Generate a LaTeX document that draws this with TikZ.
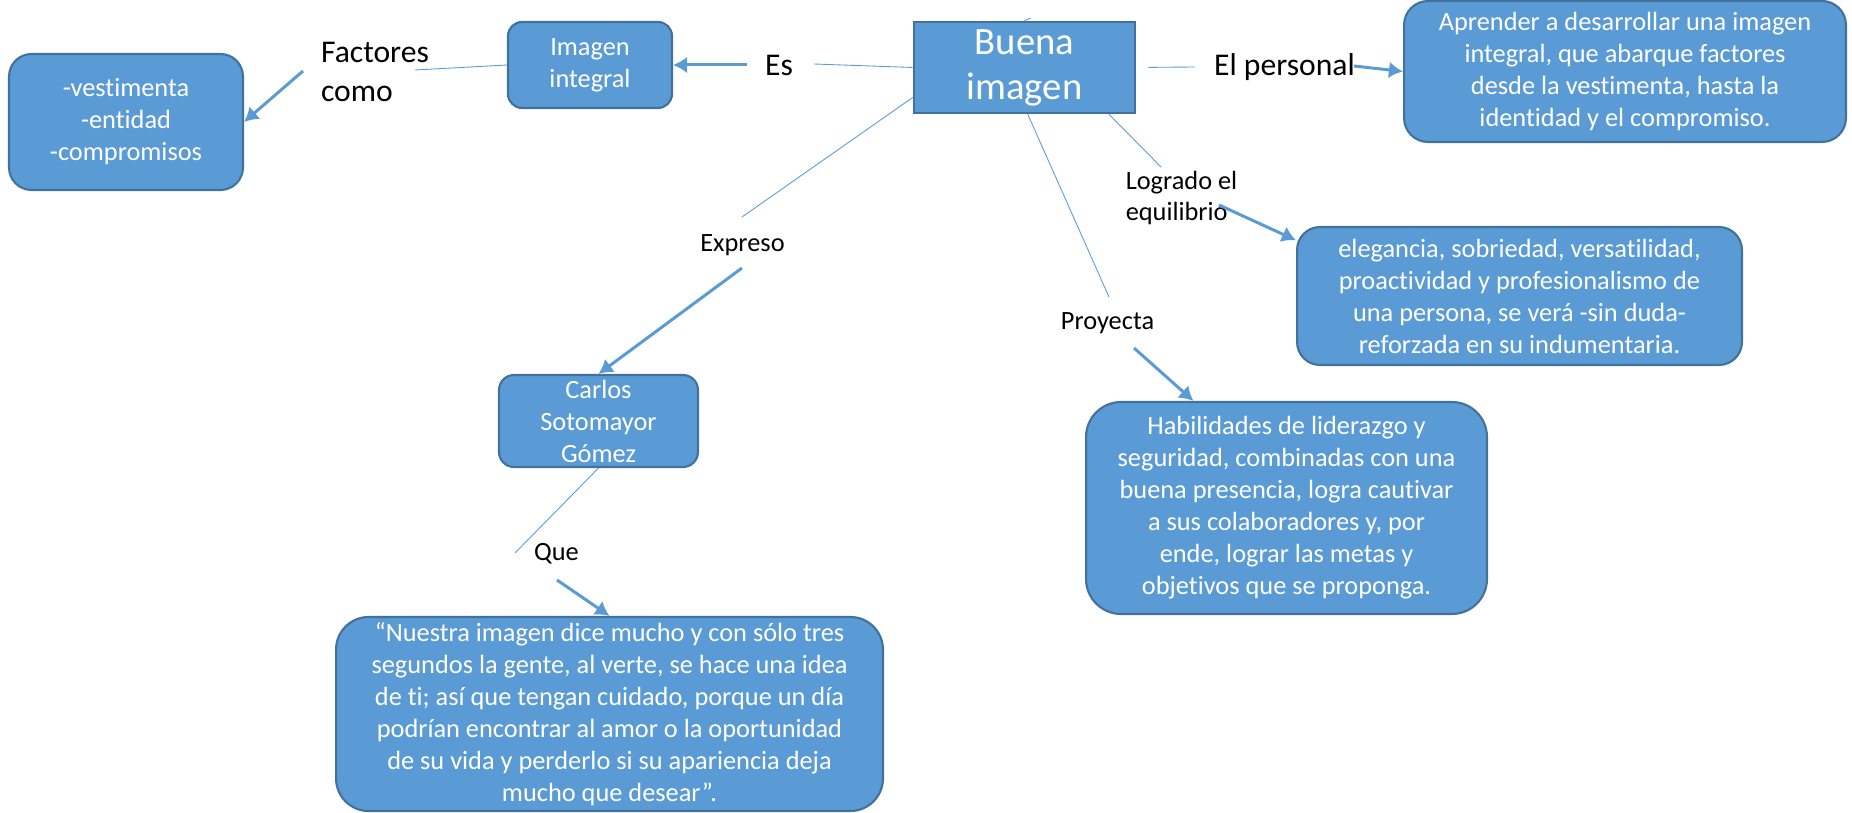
\documentclass[tikz,border=0pt]{standalone}
\usepackage{fontspec}
\setmainfont[Ligatures=NoCommon]{Carlito}
\usetikzlibrary{calc,arrows.meta}
\definecolor{boxfill}{HTML}{5B9BD5}
\definecolor{boxline}{HTML}{41719C}
\tikzset{>={Latex[length=8pt,width=9.5pt]}}
\newcommand{\boxtext}{\fontsize{15}{18.2}\selectfont}
\newcommand{\bigtag}{\fontsize{18}{22.2}\selectfont}
\newcommand{\smalltag}{\fontsize{15}{18.1}\selectfont}

\begin{document}
\begin{tikzpicture}[x=0.02cm, y=-0.02cm,
  concept/.style={draw=boxline, fill=boxfill, line width=1.2pt, text=white, align=center, font=\boxtext, inner sep=0pt},
  tag/.style={text=black, inner sep=0pt},
  link/.style={draw=boxfill, line width=0.5pt},
  pointer/.style={draw=boxfill, ->, line width=1.7pt}]
\useasboundingbox (0,0) rectangle (1852,813);

% boxes
\node[concept, minimum width=4.42cm, minimum height=1.82cm, line width=1.5pt, font=\fontsize{22}{25.6}\selectfont] (buena) at (1024.5,67.5) {Buena\\imagen};
\node[concept, rounded corners=0.28cm, minimum width=3.28cm, minimum height=1.72cm] (imageint) at (590,65) {Imagen\\integral};
\node[concept, rounded corners=0.45cm, minimum width=4.68cm, minimum height=2.72cm] (traits) at (126,122) {-vestimenta\\-entidad\\-compromisos};
\node[concept, rounded corners=0.48cm, minimum width=8.84cm, minimum height=2.82cm] (aprender) at (1625,71.5) {Aprender a desarrollar una imagen\\integral, que abarque factores\\desde la vestimenta, hasta la\\identidad y el compromiso.};
\node[concept, rounded corners=0.46cm, minimum width=8.9cm, minimum height=2.76cm] (eleg) at (1519.5,296) {elegancia, sobriedad, versatilidad,\\proactividad y profesionalismo de\\una persona, se verá -sin duda-\\reforzada en su indumentaria.};
\node[concept, rounded corners=0.7cm, minimum width=8.02cm, minimum height=4.24cm] (habil) at (1286.5,508) {Habilidades de liderazgo y\\seguridad, combinadas con una\\buena presencia, logra cautivar\\a sus colaboradores y, por\\ende, lograr las metas y\\objetivos que se proponga.};
\node[concept, rounded corners=0.3cm, minimum width=3.98cm, minimum height=1.84cm] (carlos) at (598.5,421) {Carlos\\Sotomayor\\Gómez};
\node[concept, rounded corners=0.65cm, minimum width=10.94cm, minimum height=3.88cm] (quote) at (609.5,714) {“Nuestra imagen dice mucho y con sólo tres\\segundos la gente, al verte, se hace una idea\\de ti; así que tengan cuidado, porque un día\\podrían encontrar al amor o la oportunidad\\de su vida y perderlo si su apariencia deja\\mucho que desear”.};

% link words
\node[tag, font=\bigtag, align=left] (factores) at (375,72) {Factores\\como};
\node[tag, font=\bigtag, anchor=base] (es) at (779,76) {Es};
\node[tag, font=\bigtag, anchor=base] (personal) at (1284.5,76) {El personal};
\node[tag, font=\smalltag, align=left] (logrado) at (1181.5,198) {Logrado el\\equilibrio};
\node[tag, font=\smalltag, anchor=base] (expreso) at (742.5,252) {Expreso};
\node[tag, font=\smalltag, anchor=base] (proyecta) at (1107.5,330) {Proyecta};
\node[tag, font=\smalltag, anchor=base] (que) at (556.5,561) {Que};

% loose ends beside the link words
\coordinate (fac-a) at (415,70);
\coordinate (fac-b) at (303,71);
\coordinate (es-a) at (814,64);
\coordinate (es-b) at (747,65);
\coordinate (per-a) at (1195,67);
\coordinate (per-b) at (1354,66);
\coordinate (log-a) at (1161,167);
\coordinate (log-b) at (1219,205);
\coordinate (pro-a) at (1109,297);
\coordinate (pro-b) at (1134,348);
\coordinate (exp-a) at (742,217);
\coordinate (exp-b) at (742,268);
\coordinate (que-a) at (515,553);
\coordinate (que-b) at (557,580);
\coordinate (stub) at (1031,18);

% connectors
\draw[link] (buena.north) -- (stub);
\draw[link] (imageint.west) -- (fac-a);
\draw[pointer] (fac-b) -- (traits.east);
\draw[link] (buena.west) -- (es-a);
\draw[pointer] (es-b) -- (imageint.east);
\draw[link, shorten <=0.24cm] (buena.east) -- (per-a);
\draw[pointer] (per-b) -- (aprender.west);
\draw[link] (buena.-29.5) -- (log-a);
\draw[pointer] (log-b) -- (eleg.166.4);
\draw[link] (buena.-86) -- (pro-a);
\draw[pointer] (pro-b) -- (habil.131.5);
\draw[link] (buena.195) -- (exp-a);
\draw[pointer] (exp-b) -- (carlos.north);
\draw[link] (carlos.south) -- (que-a);
\draw[pointer] (que-b) -- (quote.north);
\end{tikzpicture}
\end{document}
